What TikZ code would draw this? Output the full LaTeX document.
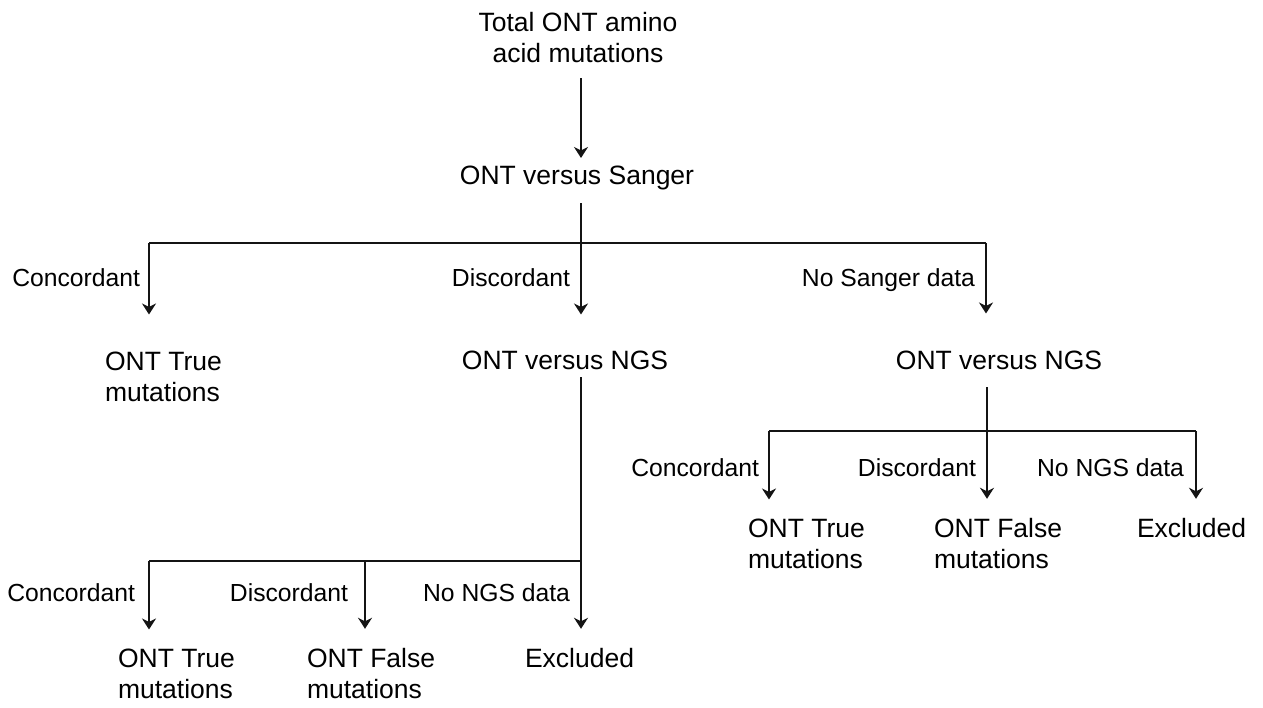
\documentclass[tikz,border=0pt]{standalone}
\usepackage{fontspec}
\setmainfont{Liberation Sans}
\usetikzlibrary{arrows.meta}
\begin{document}
\begin{tikzpicture}[x=1pt,y=-1pt,
  box/.style={inner sep=0pt,outer sep=0pt,font=\fontsize{26.5}{31}\selectfont},
  lbl/.style={inner sep=0pt,outer sep=0pt,anchor=base east,font=\fontsize{24.7}{29}\selectfont},
  conn/.style={line width=1.8pt,draw={rgb,255:red,20;green,20;blue,20}},
  arr/.style={conn,-{Stealth[length=11pt,width=14pt,inset=3.5pt]}}]
\useasboundingbox (0,0) rectangle (1263,708);
% nodes (base anchor of two-line nodes = last line's baseline)
\node[box,align=center,anchor=base] (title) at (578,63) {Total ONT amino\\acid mutations};
\node[box,anchor=base] (sanger) at (577,185) {ONT versus Sanger};
\node[box,align=left,anchor=base west] (t1) at (105,401) {ONT True\\mutations};
\node[box,anchor=base] (n1) at (565,370) {ONT versus NGS};
\node[box,anchor=base] (n2) at (999,369) {ONT versus NGS};
\node[box,align=left,anchor=base west] (t2) at (118,698) {ONT True\\mutations};
\node[box,align=left,anchor=base west] (f2) at (307,698) {ONT False\\mutations};
\node[box,anchor=base west] (e2) at (525,667) {Excluded};
\node[box,align=left,anchor=base west] (t3) at (748,568) {ONT True\\mutations};
\node[box,align=left,anchor=base west] (f3) at (934,568) {ONT False\\mutations};
\node[box,anchor=base west] (e3) at (1137,537) {Excluded};
% labels
\node[lbl] (c1) at (140,287) {Concordant};
\node[lbl] (d1) at (570,287) {Discordant};
\node[lbl] (s1) at (975,287) {No Sanger data};
\node[lbl] (c2) at (135,601) {Concordant};
\node[lbl] (d2) at (348,601) {Discordant};
\node[lbl] (g2) at (570,601) {No NGS data};
\node[lbl] (c3) at (759,476) {Concordant};
\node[lbl] (d3) at (976,476) {Discordant};
\node[lbl] (g3) at (1184,476) {No NGS data};
% junction coordinates
\coordinate (m0) at (581,100);
\coordinate (j1l) at (149,243);
\coordinate (j1m) at (581,243);
\coordinate (j1r) at (986,243);
\coordinate (j2l) at (149,561);
\coordinate (j2m) at (365,561);
\coordinate (j2r) at (581,561);
\coordinate (j3l) at (769,431);
\coordinate (j3m) at (987,431);
\coordinate (j3r) at (1196,431);
% connectors
\draw[arr,shorten <=15pt,shorten >=8.5pt] (title.south -| m0) -- (sanger.north -| m0);
\draw[conn] (j1l) -- (j1r);
\draw[arr,shorten <=13pt,shorten >=37pt] (sanger.south -| j1m) -- (n1.north -| j1m);
\draw[arr,shorten >=37pt] (j1l) -- (t1.north -| j1l);
\draw[arr,shorten >=37pt] (j1r) -- (n2.north -| j1r);
% middle subtree
\draw[conn] (j2l) -- (j2r);
\draw[arr,shorten <=7pt,shorten >=19pt] (n1.south -| j2r) -- (e2.north -| j2r);
\draw[arr,shorten >=19pt] (j2l) -- (t2.north -| j2l);
\draw[arr,shorten >=19pt] (j2m) -- (f2.north -| j2m);
% right subtree
\draw[conn] (j3l) -- (j3r);
\draw[arr,shorten <=18pt,shorten >=19pt] (n2.south -| j3m) -- (f3.north -| j3m);
\draw[arr,shorten >=19pt] (j3l) -- (t3.north -| j3l);
\draw[arr,shorten >=19pt] (j3r) -- (e3.north -| j3r);
\end{tikzpicture}
\end{document}
